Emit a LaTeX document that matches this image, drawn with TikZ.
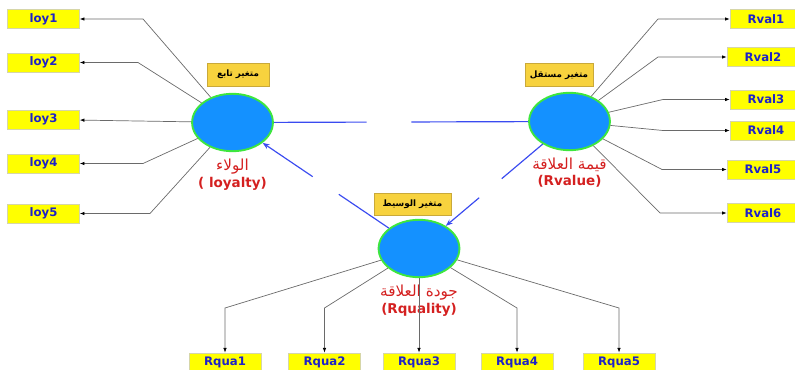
\documentclass[tikz,border=0pt]{standalone}
\usepackage{fontspec}
\setsansfont{DejaVu Sans}
\newfontfamily\arabicfont[Script=Arabic]{DejaVu Sans}
\TeXXeTstate=1
\usetikzlibrary{positioning, arrows.meta, calc, shapes.geometric}
\definecolor{itemyellow}{HTML}{FFFF00}
\definecolor{itemedge}{HTML}{D6D6A8}
\definecolor{itemblue}{HTML}{1E22C8}
\definecolor{latentblue}{HTML}{1491FF}
\definecolor{latentgreen}{HTML}{3EE63E}
\definecolor{rolegold}{HTML}{F7D23E}
\definecolor{roleedge}{HTML}{C9A93A}
\definecolor{namered}{HTML}{D42020}
\definecolor{loadgray}{HTML}{6A6A6A}
\definecolor{effectblue}{HTML}{3A4BF0}

\begin{document}
\begin{tikzpicture}[x=0.03cm,y=-0.03cm,font=\sffamily,
  item/.style={fill=itemyellow, draw=itemedge, minimum width=61.5pt, minimum height=16.5pt, inner sep=0pt, text=itemblue, font=\sffamily\bfseries\fontsize{10}{12}\selectfont},
  latent/.style={ellipse, fill=latentblue, draw=latentgreen, line width=1.6pt, minimum width=69pt, minimum height=49pt, inner sep=0pt},
  role/.style={fill=rolegold, draw=roleedge, minimum width=53pt, minimum height=20pt, inner sep=0pt, font=\arabicfont\bfseries\fontsize{7.5}{9}\selectfont},
  aname/.style={text=namered, inner sep=1pt, font=\arabicfont\fontsize{13}{15}\selectfont},
  ename/.style={text=namered, inner sep=1pt, font=\sffamily\bfseries\fontsize{11.5}{13}\selectfont},
  load/.style={draw=loadgray, line width=0.6pt, -{Latex[length=4pt,width=3pt,color=black]}},
  effect/.style={draw=effectblue, line width=1pt}]

  \useasboundingbox (0,0) rectangle (795,369);

  % Latent variables
  \node[latent] (loyalty) at (232.5,122.5) {};
  \node[latent] (rvalue) at (569.5,121.5) {};
  \node[latent] (rquality) at (419,248.5) {};

  % Roles
  \node[role] (roleloy) at (238,74.5) {\beginR متغير تابع\endR};
  \node[role,minimum width=58pt] (roleval) at (559,75) {\beginR متغير مستقل\endR};
  \node[role,minimum width=66pt,minimum height=19pt] (rolequa) at (412.5,204) {\beginR متغير الوسيط\endR};

  % Names
  \node[aname, below=5pt of loyalty] (loyaltyar) {\beginR الولاء\endR};
  \node[ename, below=0pt of loyaltyar] (loyaltyen) {( loyalty)};
  \node[aname, below=5pt of rvalue] (rvaluear) {\beginR قيمة العلاقة\endR};
  \node[ename, below=0pt of rvaluear] (rvalueen) {(Rvalue)};
  \node[aname, below=5pt of rquality] (rqualityar) {\beginR جودة العلاقة\endR};
  \node[ename, below=0pt of rqualityar] (rqualityen) {(Rquality)};

  % Indicators
  \node[item] (loy1) at (43.5,19) {loy1};
  \node[item] (loy2) at (43.5,62.5) {loy2};
  \node[item] (loy3) at (43.5,119.5) {loy3};
  \node[item] (loy4) at (43.5,163.5) {loy4};
  \node[item] (loy5) at (43.5,213.5) {loy5};

  \node[item] (rval1) at (766,19) {Rval1};
  \node[item] (rval2) at (763,57) {Rval2};
  \node[item] (rval3) at (766,99.5) {Rval3};
  \node[item] (rval4) at (766,130.5) {Rval4};
  \node[item] (rval5) at (763,169.5) {Rval5};
  \node[item] (rval6) at (763,213) {Rval6};

  \node[item] (rqua1) at (225,362.5) {Rqua1};
  \node[item] (rqua2) at (324.5,362.5) {Rqua2};
  \node[item] (rqua3) at (419,362.5) {Rqua3};
  \node[item] (rqua4) at (517,362.5) {Rqua4};
  \node[item] (rqua5) at (619,362.5) {Rqua5};

  % Loadings
  \draw[load] (loyalty) -- (143,19) -- (loy1);
  \draw[load] (loyalty) -- (138,62.5) -- (loy2);
  \draw[load] (loyalty) -- (loy3);
  \draw[load] (loyalty) -- (143,163.5) -- (loy4);
  \draw[load] (loyalty) -- (150,213.5) -- (loy5);

  \draw[load] (rvalue) -- (658,19) -- (rval1);
  \draw[load] (rvalue) -- (658,57) -- (rval2);
  \draw[load] (rvalue) -- (663,99.5) -- (rval3);
  \draw[load] (rvalue) -- (663,130.5) -- (rval4);
  \draw[load] (rvalue) -- (662,169.5) -- (rval5);
  \draw[load] (rvalue) -- (660,213) -- (rval6);

  \draw[load] (rquality) -- (225,308) -- (rqua1);
  \draw[load] (rquality) -- (324.5,308) -- (rqua2);
  \draw[load] (rquality) -- (rqua3);
  \draw[load] (rquality) -- (517,308) -- (rqua4);
  \draw[load] (rquality) -- (619,308) -- (rqua5);

  % Paths
  \coordinate (gapa1) at ($(loyalty)!0.398!(rvalue)$);
  \coordinate (gapa2) at ($(loyalty)!0.531!(rvalue)$);
  \coordinate (gapb1) at ($(rquality)!0.43!(loyalty)$);
  \coordinate (gapb2) at ($(rquality)!0.57!(loyalty)$);
  \coordinate (gapc1) at ($(rvalue)!0.45!(rquality)$);
  \coordinate (gapc2) at ($(rvalue)!0.60!(rquality)$);

  \draw[effect] (loyalty) -- (gapa1);
  \draw[effect] (gapa2) -- (rvalue);
  \draw[effect] (rquality) -- (gapb1);
  \draw[effect,-{Stealth[length=6pt,width=4.5pt]}] (gapb2) -- (loyalty);
  \draw[effect] (rvalue) -- (gapc1);
  \draw[effect,-{Stealth[length=6pt,width=4.5pt]}] (gapc2) -- (rquality);
\end{tikzpicture}
\end{document}
